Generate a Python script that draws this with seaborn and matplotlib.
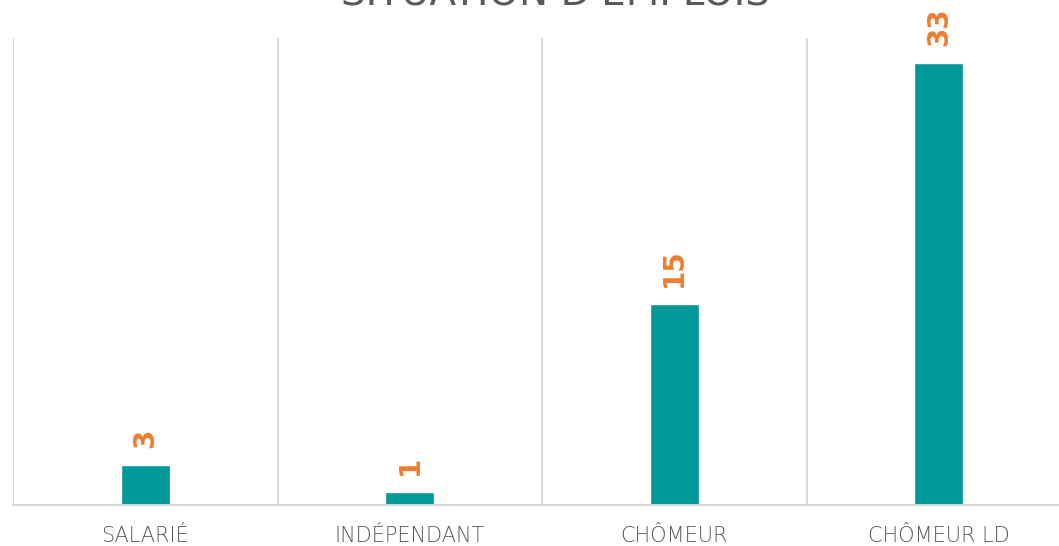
import matplotlib
matplotlib.use("Agg")
import matplotlib.pyplot as plt
import seaborn as sns
import pandas as pd

categories = ["SALARIÉ", "INDÉPENDANT", "CHÔMEUR", "CHÔMEUR LD"]
values = [3, 1, 15, 33]
title = "SITUATION D'EMPLOIS"

bar_color = "#009999"
label_color = "#ED7D31"
text_color = "#595959"
grid_color = "#D9D9D9"

df = pd.DataFrame({"cat": categories, "val": values})

sns.set_style("white")
plt.rcParams['font.family'] = ['DejaVu Sans']

fig = plt.figure(figsize=(10.59, 5.46), dpi=100)
# axes runs a little past the right edge like the original
ax = fig.add_axes([13 / 1059, 41 / 546, 1058 / 1059, 467 / 546])

sns.barplot(data=df, x="cat", y="val", color=bar_color, width=0.185,
            saturation=1, ax=ax)

ax.set_ylim(0, 34.85)
ax.set_xlim(-0.5, len(categories) - 0.5)
ax.set_xlabel("")
ax.set_ylabel("")
ax.set_yticks([])

# vertical separators between categories
ax.set_xticks([i - 0.5 for i in range(len(categories) + 1)], minor=True)
ax.grid(True, which="minor", axis="x", color=grid_color, linewidth=1.5)
ax.grid(False, which="major")
ax.tick_params(axis="x", which="both", length=0, pad=15,
               labelsize=15, labelcolor=text_color)
for lbl in ax.get_xticklabels():
    lbl.set_fontweight("light")

for side in ["top", "right", "left"]:
    ax.spines[side].set_visible(False)
ax.spines["bottom"].set_color(grid_color)
ax.spines["bottom"].set_linewidth(1.5)

ax.bar_label(ax.containers[0], labels=[str(v) for v in values],
             padding=12, rotation=90, color=label_color,
             fontsize=20, fontweight="bold")

fig.text(555 / 1059, 1 - 5 / 546, title, ha="center", va="baseline",
         fontsize=28, color=text_color)

fig.savefig("out.png", dpi=100)
